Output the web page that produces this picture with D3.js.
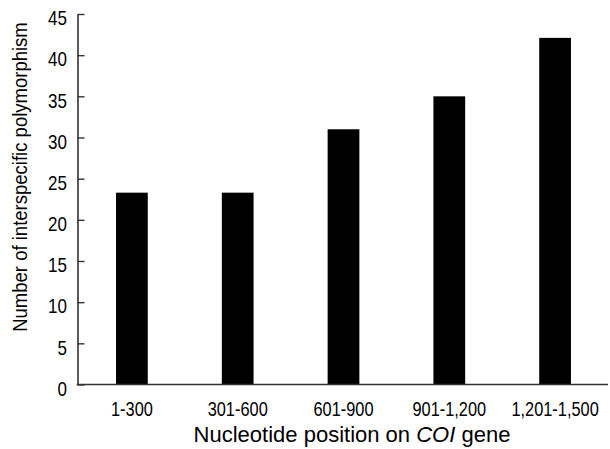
<!DOCTYPE html>
<html>
<head>
<meta charset="utf-8">
<script src="https://cdn.jsdelivr.net/npm/d3@7"></script>
<style>
  body { margin: 0; background: #fff; }
  text { font-family: "Liberation Sans", Arial, sans-serif; fill: #000; }
</style>
</head>
<body>
<div id="chart"></div>
<script>
const categories = ["1-300", "301-600", "601-900", "901-1,200", "1,201-1,500"];
const values = [23.3, 23.3, 31, 35, 42.1];
const yTicks = [0, 5, 10, 15, 20, 25, 30, 35, 40, 45];

const width = 610;
const height = 449;

const svg = d3.select("#chart")
  .append("svg")
  .attr("width", width)
  .attr("height", height);

const axisX = 77.5;
const x = d3.scaleBand()
  .domain(categories)
  .range([79, 608])
  .paddingInner(0.7)
  .paddingOuter(0.35);

const y = d3.scaleLinear()
  .domain([0, 45])
  .range([384.5, 14]);

// bars
svg.append("g")
  .selectAll("rect")
  .data(values)
  .enter()
  .append("rect")
  .attr("x", (d, i) => x(categories[i]))
  .attr("y", (d) => y(d))
  .attr("width", x.bandwidth())
  .attr("height", (d) => y(0) - y(d))
  .attr("fill", "#000");

// y axis with inward ticks
const yAxis = svg.append("g")
  .attr("transform", `translate(${axisX},0)`)
  .call(d3.axisLeft(y).tickValues(yTicks).tickSizeInner(-7).tickSizeOuter(0).tickFormat(""));
yAxis.select(".domain").attr("stroke", "#333").attr("stroke-width", 1.6);
yAxis.selectAll(".tick line").attr("stroke", "#333").attr("stroke-width", 1.4);

// y tick labels, narrow face
svg.append("g")
  .selectAll("text")
  .data(yTicks)
  .enter()
  .append("g")
  .attr("transform", (d) => `translate(67,${y(d) + 4}) scale(0.85,1)`)
  .append("text")
  .attr("text-anchor", "end")
  .attr("dy", "0.36em")
  .attr("font-size", 20)
  .text((d) => d);

// x axis line
svg.append("line")
  .attr("x1", axisX - 0.8)
  .attr("x2", 608)
  .attr("y1", y(0))
  .attr("y2", y(0))
  .attr("stroke", "#333")
  .attr("stroke-width", 1.6);

// x tick labels
svg.append("g")
  .selectAll("text")
  .data(categories)
  .enter()
  .append("g")
  .attr("transform", (d) => `translate(${x(d) + x.bandwidth() / 2},416) scale(0.84,1)`)
  .append("text")
  .attr("text-anchor", "middle")
  .attr("font-size", 19.5)
  .text((d) => d);

// x title
const xt = svg.append("text")
  .attr("x", 352)
  .attr("y", 441.5)
  .attr("text-anchor", "middle")
  .attr("font-size", 22);
xt.append("tspan").text("Nucleotide position on ");
xt.append("tspan").attr("font-style", "italic").text("COI");
xt.append("tspan").text(" gene");

// y title
svg.append("g")
  .attr("transform", "translate(26.5,177) rotate(-90) scale(0.95,1)")
  .append("text")
  .attr("text-anchor", "middle")
  .attr("font-size", 19.5)
  .text("Number of interspecific polymorphism");
</script>
</body>
</html>
